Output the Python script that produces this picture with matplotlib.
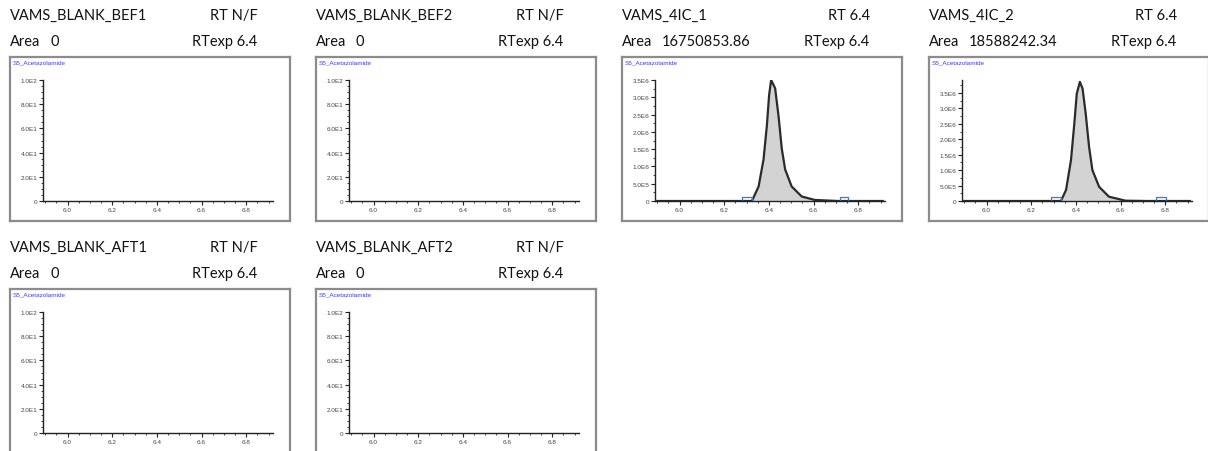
import matplotlib
matplotlib.use("Agg")
import matplotlib.pyplot as plt
from matplotlib.ticker import MultipleLocator, FixedLocator
from matplotlib.transforms import blended_transform_factory

# sample names and result text, one per panel
samples = ["VAMS_BLANK_BEF1", "VAMS_BLANK_BEF2", "VAMS_4IC_1", "VAMS_4IC_2",
           "VAMS_BLANK_AFT1", "VAMS_BLANK_AFT2"]
rt_found = ["N/F", "N/F", "6.4", "6.4", "N/F", "N/F"]
areas = ["0", "0", "16750853.86", "18588242.34", "0", "0"]
rt_expected = "6.4"
compound = "S5_Acetazolamide"

# chromatogram traces (retention time, intensity)
rt_4ic_1 = [5.90, 6.324, 6.354, 6.376, 6.391, 6.401, 6.410, 6.428, 6.443, 6.458,
            6.473, 6.502, 6.547, 6.606, 6.71, 6.91]
int_4ic_1 = [0, 0, 0.42e6, 1.20e6, 2.18e6, 3.06e6, 3.50e6, 3.26e6, 2.47e6, 1.50e6,
             0.91e6, 0.42e6, 0.13e6, 0.03e6, 0, 0]
rt_4ic_2 = [5.90, 6.333, 6.356, 6.378, 6.393, 6.404, 6.418, 6.430, 6.444, 6.459,
            6.474, 6.504, 6.548, 6.622, 6.72, 6.91]
int_4ic_2 = [0, 0, 0.36e6, 1.32e6, 2.51e6, 3.48e6, 3.86e6, 3.64e6, 2.83e6, 1.76e6,
             1.00e6, 0.46e6, 0.14e6, 0.01e6, 0, 0]
# integration window markers (start/end of each bracket)
marks_4ic_1 = [(6.281, 6.324), (6.718, 6.756)]
marks_4ic_2 = [(6.289, 6.333), (6.758, 6.803)]

traces = {2: (rt_4ic_1, int_4ic_1, marks_4ic_1), 3: (rt_4ic_2, int_4ic_2, marks_4ic_2)}
y_limits = {2: 3.5e6, 3: 3.92e6}

blank_ticks = [0, 20, 40, 60, 80, 100]
blank_labels = ["0", "2.0E1", "4.0E1", "6.0E1", "8.0E1", "1.0E2"]
peak_ticks = [0, 0.5e6, 1.0e6, 1.5e6, 2.0e6, 2.5e6, 3.0e6, 3.5e6]
peak_labels = ["0", "5.0E5", "1.0E6", "1.5E6", "2.0E6", "2.5E6", "3.0E6", "3.5E6"]

W, H = 1208, 452
fig = plt.figure(figsize=(W / 100, H / 100), dpi=100)
plt.rcParams['font.family'] = ['Lato', 'DejaVu Sans']


def px_axes(x, y, w, h):
    # axes placed with pixel coordinates measured from top-left
    return fig.add_axes([x / W, 1 - (y + h) / H, w / W, h / H])


col_left = [10, 316, 622, 929]
row_top = [58, 290]
text_kw = dict(fontsize=10.5, color="#111111", va="center")

for i, name in enumerate(samples):
    x0 = col_left[i % 4]
    y0 = row_top[i // 4]

    # header text
    fig.text(x0 / W, 1 - (y0 - 42) / H, name, ha="left", **text_kw)
    fig.text((x0 + 248) / W, 1 - (y0 - 42) / H, "RT " + rt_found[i], ha="right", **text_kw)
    fig.text(x0 / W, 1 - (y0 - 16) / H, "Area", ha="left", **text_kw)
    fig.text((x0 + 40) / W, 1 - (y0 - 16) / H, areas[i], ha="left", **text_kw)
    fig.text((x0 + 247) / W, 1 - (y0 - 16) / H, "RTexp " + rt_expected, ha="right", **text_kw)

    # outer frame
    frame = px_axes(x0, y0, 280, 164)
    frame.set_xticks([])
    frame.set_yticks([])
    for s in frame.spines.values():
        s.set_color("#8c8c8c")
        s.set_linewidth(1.6)
    frame.text(0.008, 0.985, compound, transform=frame.transAxes, fontsize=4.6,
               color="#3a3aff", ha="left", va="top", family="Liberation Sans")

    # inner plot
    ax = px_axes(x0 + 33, y0 + 23, 230, 121)
    ax.patch.set_alpha(0)
    for side in ("top", "right"):
        ax.spines[side].set_visible(False)
    for side in ("left", "bottom"):
        ax.spines[side].set_color("#222222")
        ax.spines[side].set_linewidth(1.0)
    ax.set_xlim(5.89, 6.92)
    ax.xaxis.set_major_locator(FixedLocator([6.0, 6.2, 6.4, 6.6, 6.8]))
    ax.xaxis.set_minor_locator(MultipleLocator(0.05))

    if i in traces:
        rt, inten, marks = traces[i]
        ax.set_ylim(0, y_limits[i])
        ax.set_yticks(peak_ticks)
        ax.set_yticklabels(peak_labels)
        ax.yaxis.set_minor_locator(MultipleLocator(0.25e6))
        ax.fill_between(rt, inten, color="#d3d3d3", lw=0)
        ax.plot(rt, inten, color="#2b2b2b", lw=1.6)
        tr = blended_transform_factory(ax.transData, ax.transAxes)
        for a, b in marks:
            ax.plot([a, a, b, b], [0, 0.03, 0.03, 0], color="#3b7cc4", lw=0.9,
                    transform=tr, clip_on=False)
    else:
        ax.set_ylim(0, 100)
        ax.set_yticks(blank_ticks)
        ax.set_yticklabels(blank_labels)
        ax.yaxis.set_minor_locator(MultipleLocator(5))

    for lab in ax.get_xticklabels() + ax.get_yticklabels():
        lab.set_family("Liberation Sans")
    ax.tick_params(which="major", length=3, width=0.8, labelsize=4.6, pad=1,
                   color="#222222", labelcolor="#444444")
    ax.tick_params(which="minor", length=1.6, width=0.6, color="#222222")

fig.savefig("out.png", dpi=100)
